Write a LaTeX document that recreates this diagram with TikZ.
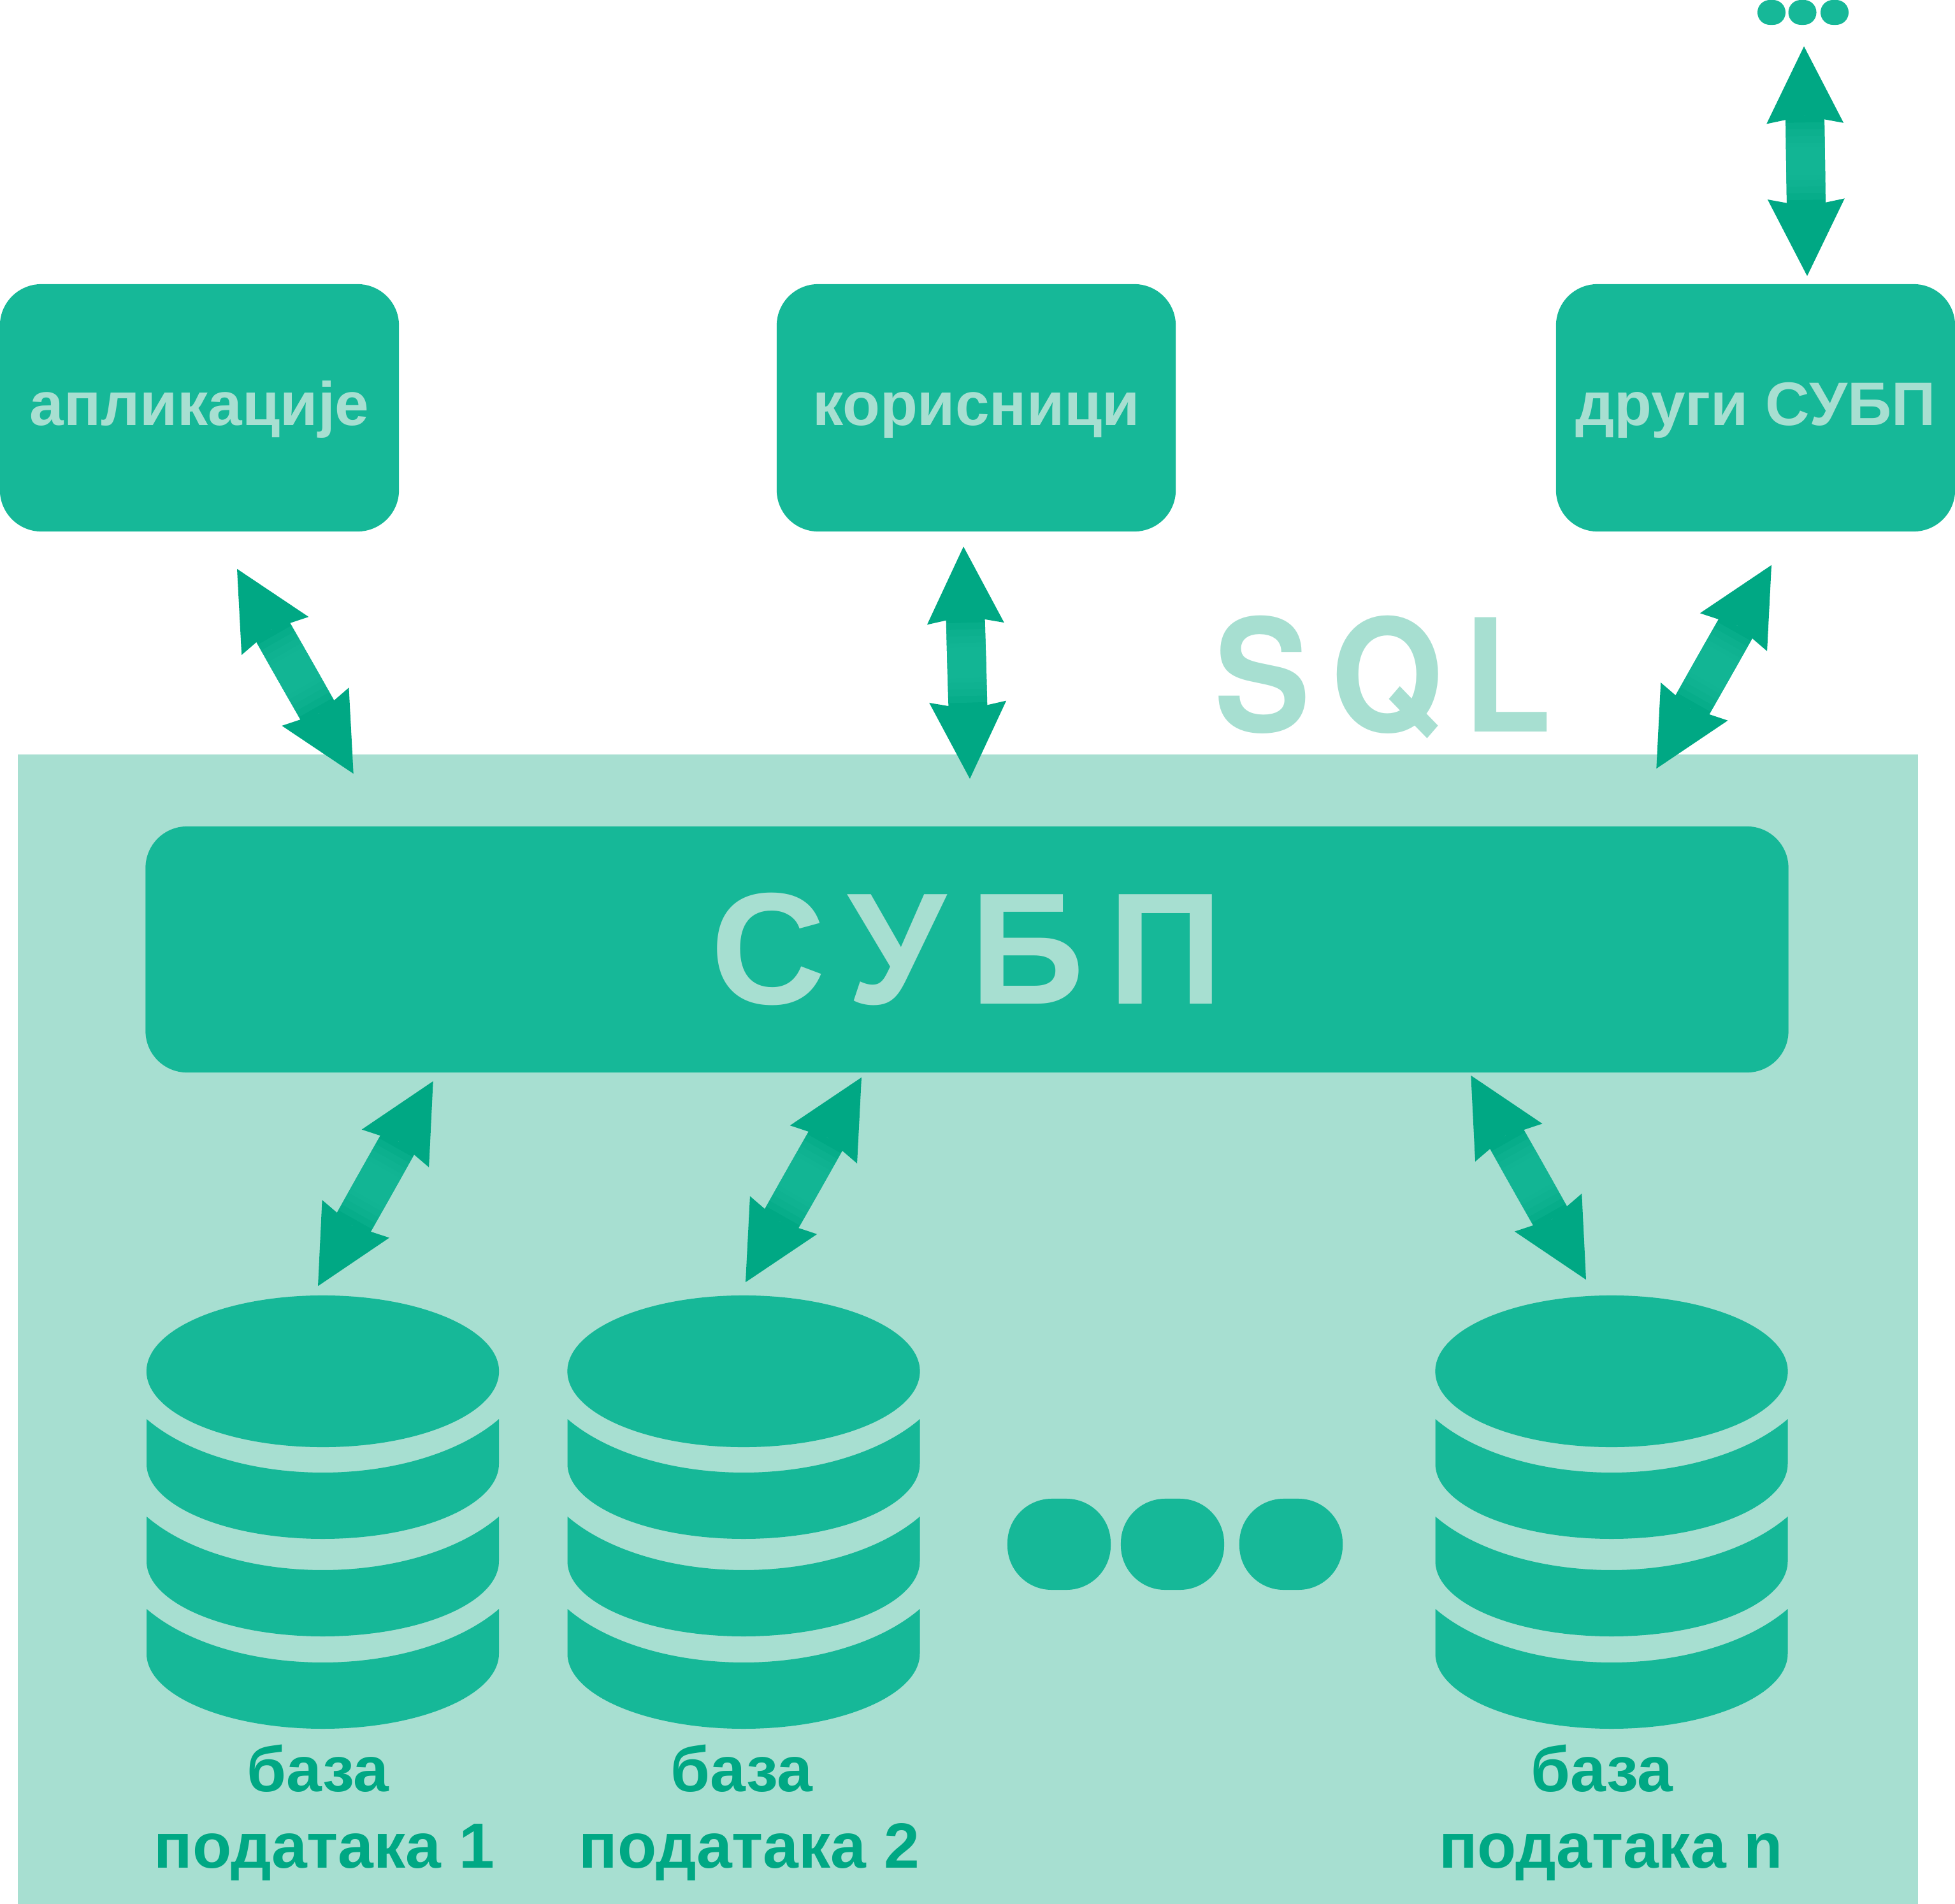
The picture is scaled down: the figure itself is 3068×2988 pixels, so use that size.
\documentclass[tikz,border=0pt]{standalone}
\usepackage{fontspec}
\setmainfont{Liberation Sans}
\newfontfamily\sqlfont{TeX Gyre Heros}
\usetikzlibrary{arrows.meta,shapes.geometric}
\definecolor{boxgreen}{HTML}{16B898}
\definecolor{arrowgreen}{HTML}{00A884}
\definecolor{palegreen}{HTML}{A7DFD1}

\begin{document}
\begin{tikzpicture}
[x=0.01cm,y=-0.01cm,%%%%%%%%%%%%%%%%%%%%%%%%%%%%%%
box/.style={rectangle,fill=boxgreen,rounded corners=18.5pt,inner sep=0pt,minimum width=626*0.2845pt,minimum height=388*0.2845pt,text=palegreen,text height=15.5pt,text depth=0pt,font=\bfseries\fontsize{27.4}{30}\selectfont},
dbmsbox/.style={rectangle,fill=boxgreen,rounded corners=18.5pt,inner sep=0pt,minimum width=2577*0.2845pt,minimum height=386*0.2845pt,text=palegreen,text height=48.4pt,text depth=0pt,font=\bfseries\fontsize{71}{73}\selectfont\addfontfeature{LetterSpace=15}},
dbtop/.style={ellipse,fill=boxgreen,inner sep=0pt,minimum width=553*0.2845pt,minimum height=238*0.2845pt},
dblabel/.style={align=center,inner sep=0pt,text=arrowgreen,font=\bfseries\fontsize{28.5}{34.1}\selectfont},
dotbig/.style={rectangle,fill=boxgreen,rounded corners=19.8pt,inner sep=0pt,minimum width=162*0.2845pt,minimum height=143*0.2845pt},
dotsmall/.style={rectangle,fill=boxgreen,rounded corners=5.5pt,inner sep=0pt,minimum width=44*0.2845pt,minimum height=39*0.2845pt},
shaftpart/.style={postaction={draw=boxgreen,-,draw opacity=.35,shorten >=#1,shorten <=#1}},
dblarrow/.style={draw=arrowgreen,line width=17.35pt,{Stealth[length=34.4pt,width=34.4pt,inset=3.4pt,line width=0pt]}-{Stealth[length=34.4pt,width=34.4pt,inset=3.4pt,line width=0pt]},
 shaftpart=34pt,shaftpart=37pt,shaftpart=40pt,shaftpart=43pt,shaftpart=45pt},
]%%%%%%%%%%%%%%%%%%%%%%%%%%%%%%
\useasboundingbox (0,0) rectangle (3068,2988);

\fill[palegreen] (28,1184) rectangle (3010,2988);

\node[box] (apps) at (313,640){апликације};
\node[box] (users) at (1532,640){корисници};
\node[box] (others) at (2755,640){други СУБП};
\node[dbmsbox] (dbms) at (1517.5,1490){СУБП};

\node[anchor=base west,inner sep=0pt,text=palegreen,font=\sqlfont\bfseries\fontsize{70}{72}\selectfont\addfontfeature{FakeStretch=0.92,LetterSpace=13}] (sql) at (1905,1148){SQL};

\foreach \x/\name in {506.5/db1,1167/db2,2529/db3}{
\node[dbtop] (\name) at (\x,2152){};
\foreach \y in {2227,2380,2525}
\fill[boxgreen] (\x-276.5,\y) -- (\x-276.5,\y+70) arc[start angle=180,end angle=0,x radius=276.5,y radius=118] -- (\x+276.5,\y) arc[start angle=33.1,end angle=146.9,x radius=330,y radius=185] -- cycle;
}

\node[dblabel,anchor=base] (label1) at (509,2931){база\hspace*{5.7pt}\\података 1};
\node[dblabel,anchor=base] (label2) at (1176,2931){база\hspace*{6.8pt}\\података 2};
\node[dblabel,anchor=base] (label3) at (2528,2931){база\hspace*{8pt}\\података n};

\node[dotbig] (dot1) at (1662,2423.5){};
\node[dotbig] (dot2) at (1840,2423.5){};
\node[dotbig] (dot3) at (2026,2423.5){};

\node[dotsmall] (more1) at (2780,19.5){};
\node[dotsmall] (more2) at (2828.5,19.5){};
\node[dotsmall] (more3) at (2879,19.5){};

\draw[dblarrow] ([shift={(2.5,33)}]more2.south) -- ([shift={(81,-12)}]others.north);
\draw[dblarrow] ([shift={(59,58)}]apps.south) -- ([shift={(327,-82)}]dbms.north west);
\draw[dblarrow] ([shift={(-20,23)}]users.south) -- ([shift={(4.5,-74)}]dbms.north);
\draw[dblarrow] ([shift={(25,52)}]others.south) -- ([shift={(-208,-90)}]dbms.north east);
\draw[dblarrow] ([shift={(452,13)}]dbms.south west) -- ([shift={(-7.5,-14)}]db1.north);
\draw[dblarrow] ([shift={(-165.5,7)}]dbms.south) -- ([shift={(3,-20)}]db2.north);
\draw[dblarrow] ([shift={(-499,4)}]dbms.south east) -- ([shift={(-40,-24)}]db3.north);
\end{tikzpicture}
\end{document}
